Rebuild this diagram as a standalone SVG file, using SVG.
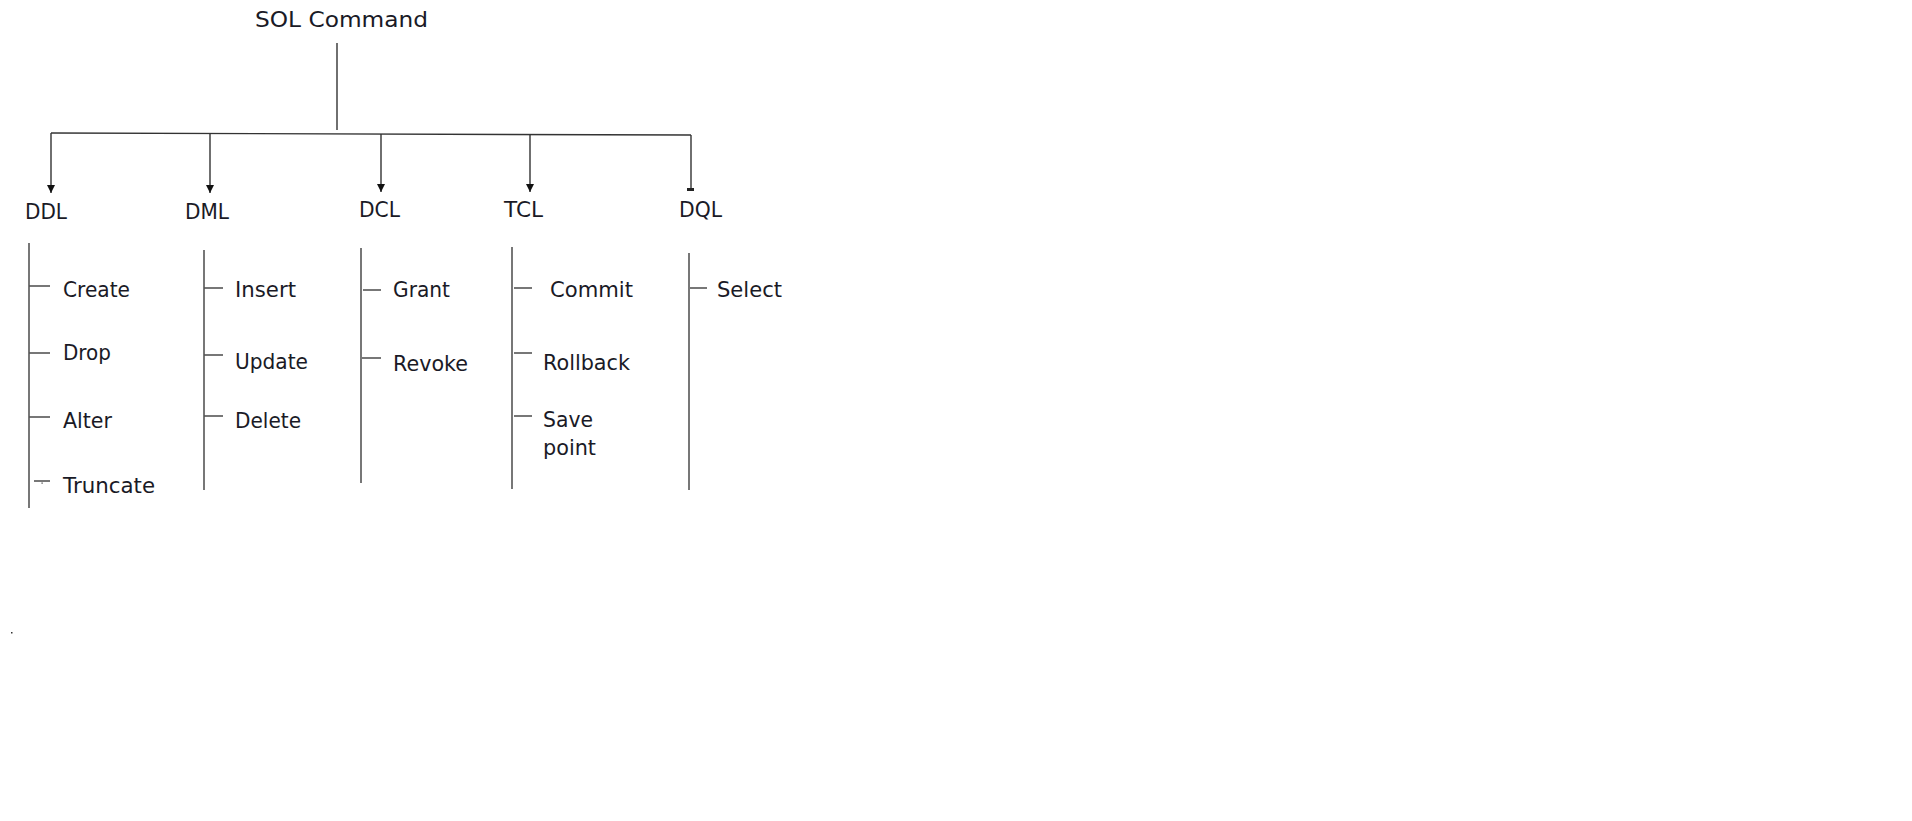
<svg xmlns="http://www.w3.org/2000/svg" width="1912" height="821" viewBox="0 0 1912 821">
<style>
text{font-family:"DejaVu Sans","Verdana",sans-serif;font-size:20.5px;fill:#1a1a26}
.ln{stroke:#555;stroke-width:1.6;fill:none}
.ar{stroke:#333;stroke-width:1.4;fill:none}
</style>
<defs>
<marker id="ah" viewBox="0 0 10 10" refX="10" refY="5" markerWidth="8" markerHeight="8" markerUnits="userSpaceOnUse" orient="auto">
<path d="M0,0 L10,5 L0,10 z" fill="#111"/>
</marker>
</defs>
<rect width="1912" height="821" fill="#fff"/>
<g id="connectors">
<line class="ar" x1="337" y1="43" x2="337" y2="130"/>
<line class="ar" x1="51" y1="133" x2="691" y2="135"/>
<line class="ar" x1="51" y1="133" x2="51" y2="193" marker-end="url(#ah)"/>
<line class="ar" x1="210" y1="133.5" x2="210" y2="193" marker-end="url(#ah)"/>
<line class="ar" x1="381" y1="134" x2="381" y2="192" marker-end="url(#ah)"/>
<line class="ar" x1="530" y1="134.5" x2="530" y2="192" marker-end="url(#ah)"/>
<line class="ar" x1="691" y1="135" x2="691" y2="190"/>
<rect x="687" y="188" width="7" height="3" fill="#222"/>
</g>
<g id="root"><text x="255" y="27" font-size="21.5" textLength="173" lengthAdjust="spacingAndGlyphs">SOL Command</text></g>
<g id="ddl">
<text x="25" y="219" textLength="42" lengthAdjust="spacingAndGlyphs">DDL</text>
<line class="ln" x1="29" y1="243" x2="29" y2="508"/>
<line class="ln" x1="29" y1="286" x2="50" y2="286"/>
<line class="ln" x1="29" y1="353" x2="50" y2="353"/>
<line class="ln" x1="29" y1="417" x2="50" y2="417"/>
<line class="ln" x1="34" y1="481" x2="50" y2="481"/>
<rect x="41.5" y="482.5" width="1.2" height="1.2" fill="#333"/>
<text x="63" y="297" textLength="67" lengthAdjust="spacingAndGlyphs">Create</text>
<text x="63" y="360" textLength="48" lengthAdjust="spacingAndGlyphs">Drop</text>
<text x="63" y="428" textLength="49" lengthAdjust="spacingAndGlyphs">Alter</text>
<text x="63" y="493" textLength="92" lengthAdjust="spacingAndGlyphs">Truncate</text>
</g>
<g id="dml">
<text x="185" y="219" textLength="44" lengthAdjust="spacingAndGlyphs">DML</text>
<line class="ln" x1="204" y1="250" x2="204" y2="490"/>
<line class="ln" x1="204" y1="288" x2="223" y2="288"/>
<line class="ln" x1="204" y1="355" x2="223" y2="355"/>
<line class="ln" x1="204" y1="416" x2="223" y2="416"/>
<text x="235" y="297" textLength="61" lengthAdjust="spacingAndGlyphs">Insert</text>
<text x="235" y="369" textLength="73" lengthAdjust="spacingAndGlyphs">Update</text>
<text x="235" y="428" textLength="66" lengthAdjust="spacingAndGlyphs">Delete</text>
</g>
<g id="dcl">
<text x="359" y="217" textLength="41" lengthAdjust="spacingAndGlyphs">DCL</text>
<line class="ln" x1="361" y1="248" x2="361" y2="483"/>
<line class="ln" x1="363" y1="290" x2="381" y2="290"/>
<line class="ln" x1="362" y1="358" x2="381" y2="358"/>
<text x="393" y="297" textLength="57" lengthAdjust="spacingAndGlyphs">Grant</text>
<text x="393" y="371" textLength="75" lengthAdjust="spacingAndGlyphs">Revoke</text>
</g>
<g id="tcl">
<text x="504" y="217" textLength="39" lengthAdjust="spacingAndGlyphs">TCL</text>
<line class="ln" x1="512" y1="247" x2="512" y2="489"/>
<line class="ln" x1="514" y1="288" x2="532" y2="288"/>
<line class="ln" x1="514" y1="353" x2="532" y2="353"/>
<line class="ln" x1="514" y1="416" x2="532" y2="416"/>
<text x="550" y="297" textLength="83" lengthAdjust="spacingAndGlyphs">Commit</text>
<text x="543" y="370" textLength="87" lengthAdjust="spacingAndGlyphs">Rollback</text>
<text x="543" y="427" textLength="50" lengthAdjust="spacingAndGlyphs">Save</text>
<text x="543" y="455" textLength="53" lengthAdjust="spacingAndGlyphs">point</text>
</g>
<g id="dql">
<text x="679" y="217" textLength="43" lengthAdjust="spacingAndGlyphs">DQL</text>
<line class="ln" x1="689" y1="253" x2="689" y2="490"/>
<line class="ln" x1="690" y1="288" x2="707" y2="288"/>
<text x="717" y="297" textLength="65" lengthAdjust="spacingAndGlyphs">Select</text>
</g>
<rect x="11" y="632" width="1.5" height="1.5" fill="#333"/>
</svg>
